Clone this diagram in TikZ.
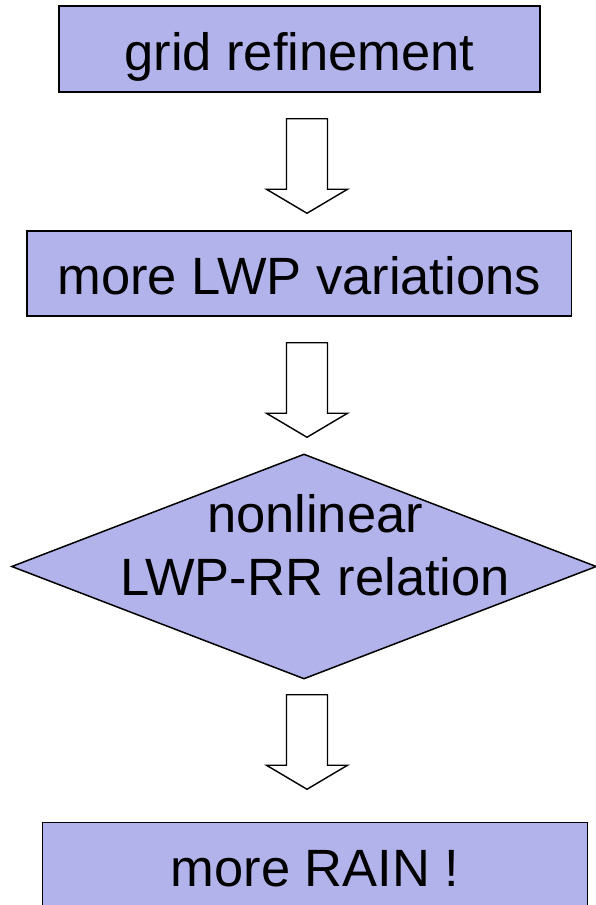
\documentclass[tikz,border=0pt]{standalone}
\usepackage{fontspec}
\setmainfont{Liberation Sans}
\usetikzlibrary{shapes.geometric,calc}
\definecolor{boxfill}{HTML}{B3B3EB}
\newcommand\bigtext{\fontsize{52.5}{63}\selectfont}
\newcommand\blockarrow[4]{%
  \path (#1.south -| axis) ++(0,-#3) coordinate (atop)
        (#2.north -| axis) ++(0,#4) coordinate (atip);
  \draw[hollow] ($(atop)+(-20.5,0)$) -- ($(atop)+(20.5,0)$)
    -- ($(atip)+(20.5,24)$) -- ($(atip)+(40.5,24)$) -- (atip)
    -- ($(atip)+(-40.5,24)$) -- ($(atip)+(-20.5,24)$) -- cycle;
}

\begin{document}
\begin{tikzpicture}[x=1pt,y=1pt,
    stepbox/.style={draw,line width=1.5pt,fill=boxfill,font=\bigtext,
      text height=46pt,text depth=4pt,inner sep=0pt},
    hollow/.style={line width=1.4pt,fill=white,line join=miter}]
    \useasboundingbox (0,0) rectangle (595,-905);
    \coordinate (axis) at (307,0);

    \path
    (299.5,-49) node[stepbox,minimum width=481pt,minimum height=86pt] (grid) {grid refinement}
    (299.25,-273.5) node[stepbox,minimum width=544.5pt,minimum height=85pt] (lwp) {more LWP variations}
    (315,-865) node[stepbox,minimum width=545pt,minimum height=85pt] (rain) {more RAIN !}
    ;
    \node[diamond,draw,line width=1.5pt,fill=boxfill,inner sep=0pt,
      minimum width=585pt,minimum height=225pt] (rel) at (304,-566.5) {};
    \node[font=\bigtext,align=center] (reltext) at (315,-545) {nonlinear\\LWP-RR relation};

    \blockarrow{grid}{lwp}{26}{17}
    \blockarrow{lwp}{rel}{26}{16}
    \blockarrow{rel}{rain}{15}{32.5}
  \end{tikzpicture}
\end{document}
